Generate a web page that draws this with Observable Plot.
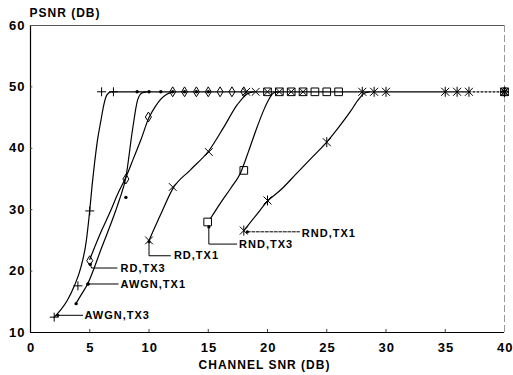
<!DOCTYPE html>
<html><head><meta charset="utf-8">
<script src="https://cdn.jsdelivr.net/npm/d3@7"></script>
<script src="https://cdn.jsdelivr.net/npm/@observablehq/plot@0.6"></script>
<style>
body{margin:0;background:#fff}
svg text{letter-spacing:1px}
</style></head><body><div id="chart"></div>
<script>
const seriesNames = ["AWGN,TX3","AWGN,TX1","RD,TX3","RD,TX1","RND,TX3","RND,TX1"];
const xTicks = [0,5,10,15,20,25,30,35,40];
const yTicks = [10,20,30,40,50,60];
const xTitle = "CHANNEL SNR (DB)";
const yTitle = "PSNR (DB)";

// smoothed curve traces, one pair of arrays per series
const curveAwgnTx3X = [2.0,2.6,3.1,3.7,4.25,4.7,5.0,5.2,5.4,5.65,5.94,6.2,6.45,6.8,7.0];
const curveAwgnTx3Y = [12.5,13.8,15.2,17.6,20.6,24.8,29.9,34.0,37.5,41.3,44.5,47.2,48.7,49.2,49.2];
const curveAwgnTx1X = [3.83,4.3,4.82,6.0,7.2,7.48,8.05,8.6,9.03,9.4,9.8];
const curveAwgnTx1Y = [14.7,16.2,17.9,23.8,29.9,31.5,35.3,42.9,47.8,49.0,49.2];
const curveRdTx3X = [5.0,6.0,6.78,7.3,8.05,8.7,9.3,10.0,10.5,11.0,11.5,12.0];
const curveRdTx3Y = [21.9,26.6,29.9,32.3,35.3,38.4,41.3,45.0,46.7,48.0,48.8,49.2];
const curveRdTx1X = [10.0,11.0,12.0,13.5,15.05,16.3,17.45,18.3,18.8];
const curveRdTx1Y = [25.0,29.3,33.4,36.5,39.6,43.4,47.1,48.9,49.2];
const curveRndTx3X = [15.2,16.0,16.9,17.7,18.4,19.15,19.7,20.1,20.5,20.9];
const curveRndTx3Y = [28.6,31.0,33.5,35.9,39.5,43.6,46.3,47.9,49.0,49.2];
const curveRndTx1X = [18.0,19.0,20.0,21.1,22.5,23.8,25.0,26.0,27.0,27.7,28.2,28.6];
const curveRndTx1Y = [26.6,29.0,31.4,33.2,36.0,38.6,41.0,43.4,46.0,48.0,49.0,49.2];

// common saturation level (solid, then dotted tail)
const flatX = [6.9,37];
const flatY = [49.2,49.2];
const tailX = [37,40];
const tailY = [49.2,49.2];

// measured points (markers)
const markAwgnTx3X = [2,4,5,6,7,40];
const markAwgnTx3Y = [12.5,17.6,29.8,49.2,49.2,49.2];
const markAwgnTx1X = [3.85,4.85,8.05,9,10,11,12,13,14,15,40];
const markAwgnTx1Y = [14.7,17.9,32.0,49.2,49.2,49.2,49.2,49.2,49.2,49.2,49.2];
const markRdTx3X = [5,8.05,9.95,12,13,14,15,16,17,18,40];
const markRdTx3Y = [21.7,35.0,45.1,49.2,49.2,49.2,49.2,49.2,49.2,49.2,49.2];
const markRdTx1X = [10,12,15.05,18.2,19,20,21,22,23,40];
const markRdTx1Y = [25.0,33.7,39.4,49.2,49.2,49.2,49.2,49.2,49.2,49.2];
const markRndTx3X = [14.95,18.0,20,21,22,23,24,25,26,40];
const markRndTx3Y = [28.0,36.4,49.2,49.2,49.2,49.2,49.2,49.2,49.2,49.2];
const markRndTx1X = [18,20,25,28,29,30,35,36,37,40];
const markRndTx1Y = [26.6,31.5,41.0,49.2,49.2,49.2,49.2,49.2,49.2,49.2];

// labels and leader lines
const labelX = [4.55,7.6,7.6,12.1,17.6,22.9];
const labelY = [12.8,17.9,20.4,22.5,24.3,26.2];
const leaderX = [[2.3,4.4],[4.85,7.4],[5.05,5.15,7.3],[10.0,10.0,11.8],[15.05,15.05,17.4],[18.3,22.7]];
const leaderY = [[12.8,12.8],[17.9,17.9],[21.1,20.5,20.5],[24.8,22.5,22.5],[27.2,24.4,24.4],[26.4,26.4]];

// ---- build tables ----
const curveXs = [curveAwgnTx3X,curveAwgnTx1X,curveRdTx3X,curveRdTx1X,curveRndTx3X,curveRndTx1X];
const curveYs = [curveAwgnTx3Y,curveAwgnTx1Y,curveRdTx3Y,curveRdTx1Y,curveRndTx3Y,curveRndTx1Y];
const markXs = [markAwgnTx3X,markAwgnTx1X,markRdTx3X,markRdTx1X,markRndTx3X,markRndTx1X];
const markYs = [markAwgnTx3Y,markAwgnTx1Y,markRdTx3Y,markRdTx1Y,markRndTx3Y,markRndTx1Y];
const curves = seriesNames.flatMap((s,i)=>curveXs[i].map((x,j)=>({series:s,x,y:curveYs[i][j]})));
const marks = seriesNames.map((s,i)=>markXs[i].map((x,j)=>({series:s,x,y:markYs[i][j]})));
const flat = flatX.map((x,i)=>({x,y:flatY[i]}));
const tail = tailX.map((x,i)=>({x,y:tailY[i]}));
const labels = seriesNames.map((s,i)=>({series:s,x:labelX[i],y:labelY[i]}));
const leaders = seriesNames.flatMap((s,i)=>leaderX[i].map((x,j)=>({series:s,x,y:leaderY[i][j]})));
const leaderEnds = seriesNames.map((s,i)=>({series:s,x:leaderX[i][0],y:leaderY[i][0]}));
const xMin = xTicks[0], xMax = xTicks[xTicks.length-1];
const yMin = yTicks[0], yMax = yTicks[yTicks.length-1];

// ---- custom symbols ----
const sym = f => ({draw(c,size){const r=Math.sqrt(size/Math.PI); f(c,r);}});
const plusSym = sym((c,r)=>{c.moveTo(-r,0);c.lineTo(r,0);c.moveTo(0,-r);c.lineTo(0,r);});
const timesSym = sym((c,r)=>{const a=r*0.8;c.moveTo(-a,-a);c.lineTo(a,a);c.moveTo(a,-a);c.lineTo(-a,a);});
const diamondSym = sym((c,r)=>{c.moveTo(0,-r*1.15);c.lineTo(r*0.7,0);c.lineTo(0,r*1.15);c.lineTo(-r*0.7,0);c.closePath();});
const squareSym = sym((c,r)=>{const a=r*0.85;c.moveTo(-a,-a);c.lineTo(a,-a);c.lineTo(a,a);c.lineTo(-a,a);c.closePath();});
const asteriskSym = sym((c,r)=>{const a=r*0.8;c.moveTo(-a,-a);c.lineTo(a,a);c.moveTo(a,-a);c.lineTo(-a,a);c.moveTo(0,-r);c.lineTo(0,r);});

const f = {fontSize:11, fontWeight:"bold", fill:"black"};
const tf = {fontSize:12, fontWeight:"bold", fill:"black"};
const nf = {fontSize:13, fontWeight:"bold", fill:"black"};

const chart = Plot.plot({
  width:513, height:375,
  marginLeft:30, marginRight:9, marginTop:25, marginBottom:43,
  style:{fontFamily:"'Liberation Sans', Arial, sans-serif", fontSize:"12px", color:"black", background:"white"},
  x:{domain:[xMin,xMax], axis:null},
  y:{domain:[yMin,yMax], axis:null},
  marks:[
    // frame
    Plot.ruleX([xMin],{y1:yMin,y2:yMax,stroke:"black",strokeWidth:1.2}),
    Plot.ruleY([yMin],{x1:xMin,x2:xMax,stroke:"black",strokeWidth:1.2}),
    Plot.ruleY([yMax],{x1:xMin,x2:xMax,stroke:"#555",strokeWidth:1}),
    Plot.ruleX([xMax],{y1:yMin,y2:yMax,stroke:"#999",strokeWidth:1,strokeDasharray:"7,3"}),
    // inward ticks
    Plot.ruleX(xTicks.slice(1,-1),{y1:yMin,y2:yMin+0.5,stroke:"#444"}),
    Plot.ruleY(yTicks.slice(1,-1),{x1:xMin,x2:xMin+0.2,stroke:"#444"}),
    // tick labels
    Plot.text(xTicks,{x:d=>d,y:()=>yMin,text:d=>String(d),textAnchor:"middle",lineAnchor:"middle",dx:0.7,dy:15,...nf}),
    Plot.text(yTicks,{x:()=>xMin,y:d=>d,text:d=>String(d),textAnchor:"end",lineAnchor:"middle",dx:-5,...nf}),
    // curves
    Plot.line(curves,{x:"x",y:"y",z:"series",curve:"monotone-x",stroke:"black",strokeWidth:1.2}),
    Plot.line(flat,{x:"x",y:"y",stroke:"black",strokeWidth:1.2}),
    Plot.line(tail,{x:"x",y:"y",stroke:"black",strokeWidth:1.2,strokeDasharray:"2,2"}),
    // markers
    Plot.dot(marks[0],{x:"x",y:"y",symbol:plusSym,r:4.5,stroke:"black",fill:"none",strokeWidth:1}),
    Plot.dot(marks[1],{x:"x",y:"y",r:1.7,fill:"black",stroke:"none"}),
    Plot.dot(marks[2],{x:"x",y:"y",symbol:diamondSym,r:4.3,stroke:"black",fill:"none",strokeWidth:1}),
    Plot.dot(marks[3],{x:"x",y:"y",symbol:timesSym,r:4.8,stroke:"black",fill:"none",strokeWidth:1}),
    Plot.dot(marks[4],{x:"x",y:"y",symbol:squareSym,r:4.5,stroke:"black",fill:"none",strokeWidth:1}),
    Plot.dot(marks[5],{x:"x",y:"y",symbol:asteriskSym,r:5,stroke:"black",fill:"none",strokeWidth:1}),
    // leaders
    Plot.line(leaders.filter(d=>d.series!=="RND,TX1"),{x:"x",y:"y",z:"series",stroke:"black",strokeWidth:1}),
    Plot.line(leaders.filter(d=>d.series==="RND,TX1"),{x:"x",y:"y",stroke:"black",strokeWidth:1,strokeDasharray:"3,1.5"}),
    Plot.dot(leaderEnds,{x:"x",y:"y",r:1.6,fill:"black",stroke:"none"}),
    Plot.text(labels,{x:"x",y:"y",text:"series",textAnchor:"start",lineAnchor:"middle",...f}),
    // titles
    Plot.text([yTitle],{text:d=>d,frameAnchor:"top-left",textAnchor:"start",lineAnchor:"middle",dx:-1,dy:-12,...tf}),
    Plot.text([xTitle],{text:d=>d,frameAnchor:"bottom",textAnchor:"middle",lineAnchor:"middle",dx:-3,dy:33,...tf})
  ]
});
document.getElementById("chart").appendChild(chart);
</script></body></html>
